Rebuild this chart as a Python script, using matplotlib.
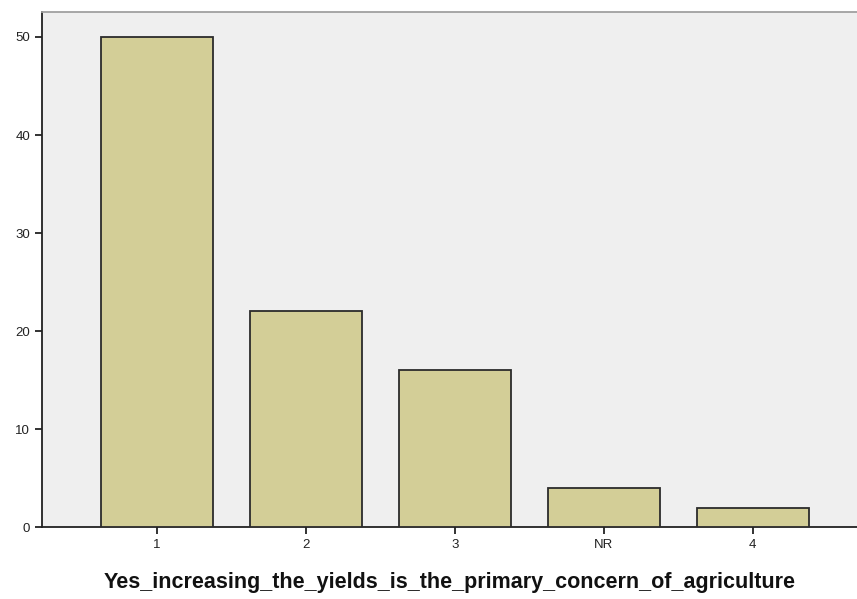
import matplotlib
matplotlib.use("Agg")
import matplotlib.pyplot as plt

categories = ["1", "2", "3", "NR", "4"]
counts = [50, 22, 16, 4, 2]

plt.rcParams['font.family'] = ['Liberation Sans', 'DejaVu Sans']

fig = plt.figure(figsize=(8.57, 5.99), dpi=100)
ax = fig.add_axes([0.049, 0.12, 0.951, 0.86])
ax.set_facecolor('#EFEFEF')

x = list(range(len(categories)))
ax.bar(x, counts, width=0.75, color='#D3CE97', edgecolor='#2B2B2B', linewidth=1.3, zorder=3)

ax.set_xlim(-0.77, 4.70)
ax.set_ylim(0, 52.55)
ax.set_xticks(x)
ax.set_xticklabels(categories)
ax.set_yticks([0, 10, 20, 30, 40, 50])

ax.tick_params(axis='both', labelsize=9.5, color='#222222', width=1.3, length=5, labelcolor='#222222')
ax.spines['left'].set_color('#222222')
ax.spines['left'].set_linewidth(1.3)
ax.spines['bottom'].set_color('#222222')
ax.spines['bottom'].set_linewidth(1.3)
ax.spines['top'].set_color('#A0A0A0')
ax.spines['top'].set_linewidth(1.3)
ax.spines['right'].set_visible(False)

ax.set_xlabel('Yes_increasing_the_yields_is_the_primary_concern_of_agriculture',
              fontsize=15.5, fontweight='bold', labelpad=15, color='#111111')

fig.savefig('out.png', dpi=100)
